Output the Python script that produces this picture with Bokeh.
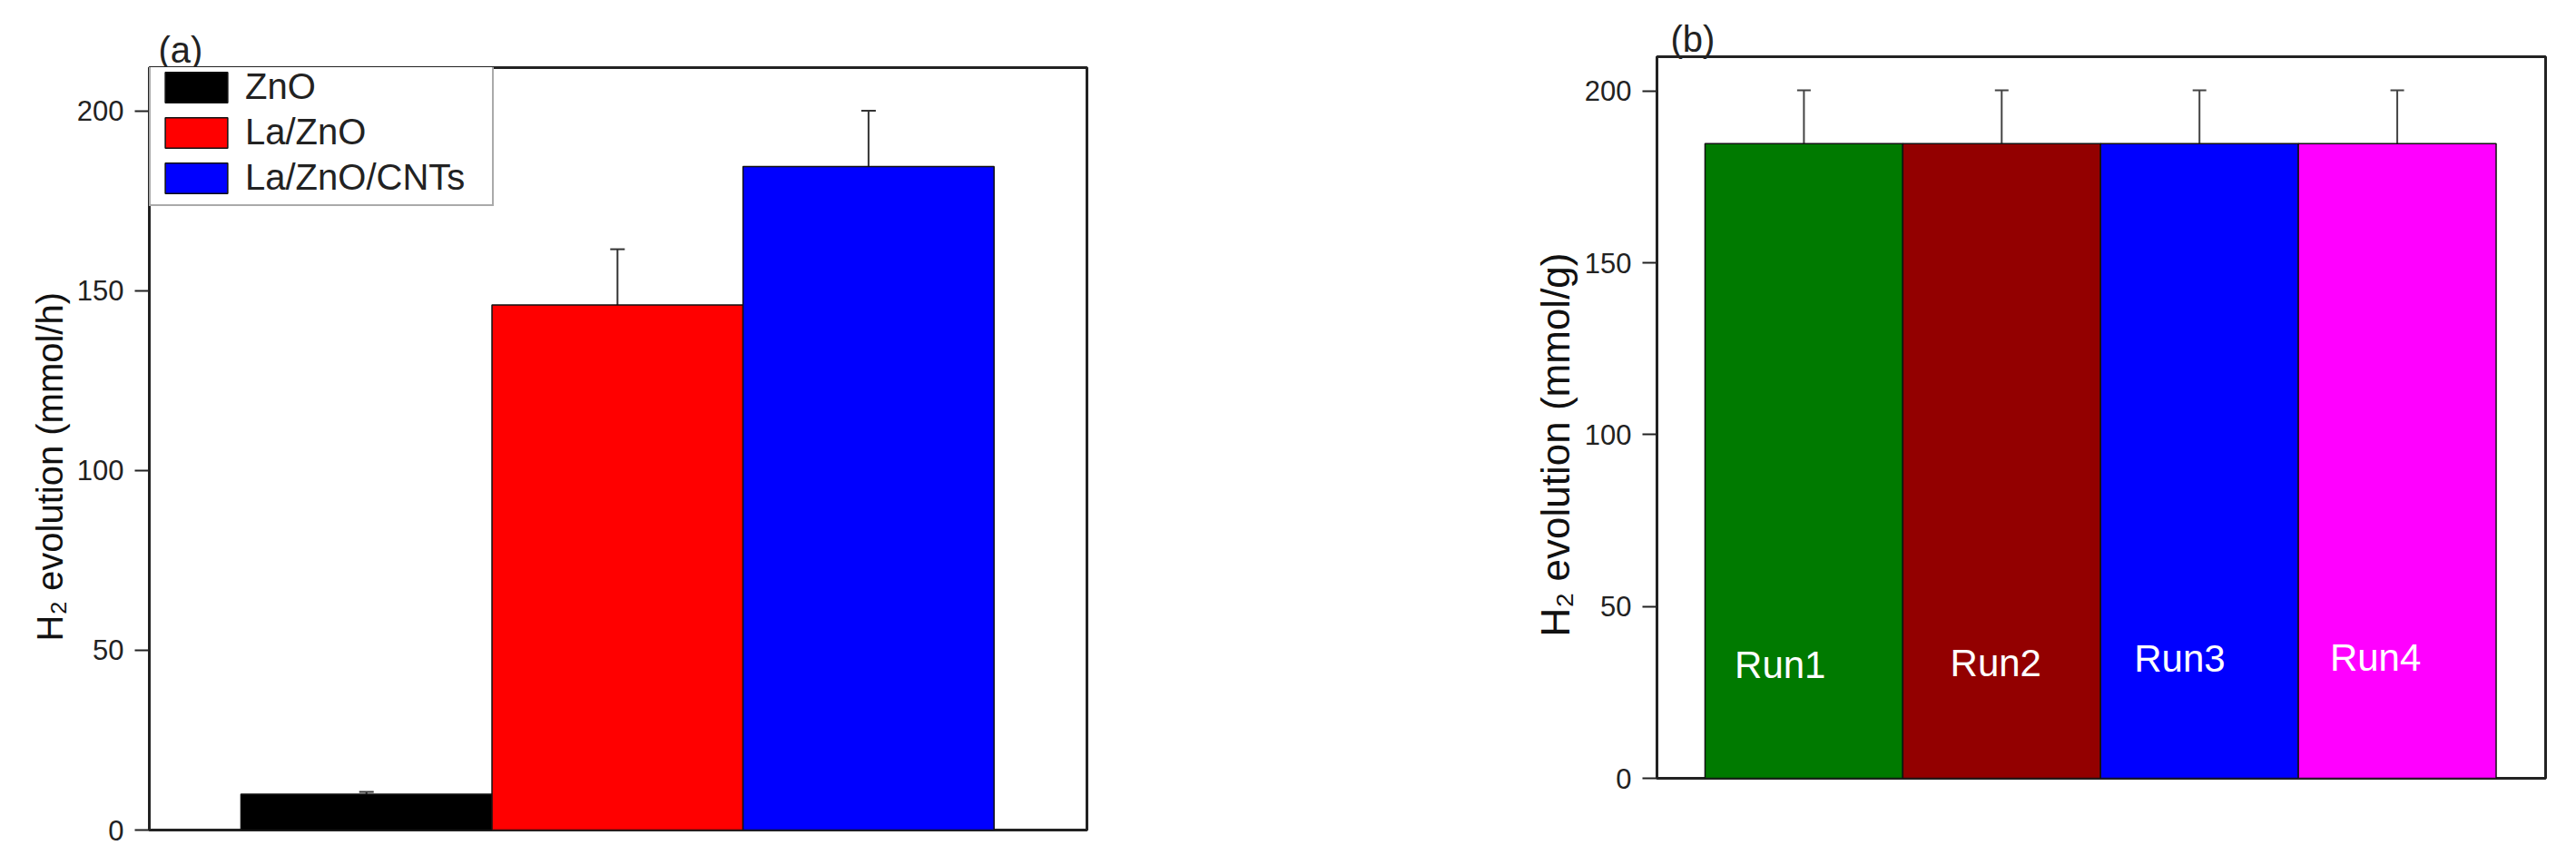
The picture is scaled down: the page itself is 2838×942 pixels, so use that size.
from bokeh.plotting import figure
from bokeh.layouts import row, column
from bokeh.models import ColumnDataSource, Range1d, Whisker, TeeHead, Title, FixedTicker
from bokeh.core.properties import value
from bokeh.embed import file_html
from bokeh.resources import INLINE

# ---------------- data ----------------
samples = ["ZnO", "La/ZnO", "La/ZnO/CNTs"]
rate_a = [10.0, 146.0, 184.5]
err_a = [0.6, 15.5, 15.5]
colors_a = ["#000000", "#ff0000", "#0000ff"]

runs = ["Run1", "Run2", "Run3", "Run4"]
evol_b = [184.7, 184.7, 184.7, 184.7]
err_b = [15.5, 15.5, 15.5, 15.5]
colors_b = ["#007a00", "#930000", "#0000ff", "#ff00ff"]

y_ticks = [0, 50, 100, 150, 200]

# label placement (styling)
run_label_dx = [-0.12, -0.03, -0.10, -0.11]
run_label_y = [33.0, 33.5, 34.8, 35.2]

FONT = "Liberation Sans"


def style_axes(p, label, label_size, label_offset, panel_tag, tag_offset):
    p.xgrid.visible = False
    p.ygrid.visible = False
    p.xaxis.visible = False
    ax = p.yaxis[0]
    ax.ticker = FixedTicker(ticks=y_ticks)
    ax.minor_tick_line_color = None
    ax.major_tick_in = 0
    ax.major_tick_out = 16
    ax.major_tick_line_width = 2
    ax.major_tick_line_color = "#222222"
    ax.axis_line_width = 3
    ax.axis_line_color = "#222222"
    ax.major_label_text_font = FONT
    ax.major_label_text_font_size = "31px"
    ax.major_label_text_color = "#222222"
    ax.major_label_standoff = 12
    p.outline_line_color = "#222222"
    p.outline_line_width = 3
    p.outline_line_alpha = 1.0
    # rotated axis title (placed outside the axis)
    p.add_layout(Title(text=label, align="left", offset=label_offset,
                       text_font=FONT, text_font_size=label_size,
                       text_font_style="normal", text_color="#111111",
                       standoff=10), "left")
    # panel tag
    p.title.text = panel_tag
    p.title.align = "left"
    p.title.offset = tag_offset
    p.title.standoff = -4
    p.title.text_font = FONT
    p.title.text_font_size = "40px"
    p.title.text_font_style = "normal"
    p.title.text_color = "#222222"


# ---------------- panel (a) ----------------
xa = [1, 2, 3]
src_a = ColumnDataSource(dict(
    x=xa, top=rate_a, color=colors_a, label=samples,
    upper=[v + e for v, e in zip(rate_a, err_a)],
    lower=[v - e for v, e in zip(rate_a, err_a)],
))

pa = figure(width=1675, height=932,
            x_range=Range1d(0.135, 3.87), y_range=Range1d(0, 212),
            output_backend="svg", toolbar_location=None,
            min_border_left=164, min_border_top=74,
            min_border_right=478, min_border_bottom=18)
pa.background_fill_color = "white"
pa.border_fill_color = "white"

pa.vbar(x="x", top="top", width=1.0, bottom=0, source=src_a,
        fill_color="color", line_color="#111111", line_width=1.5,
        legend_field="label")

wa = Whisker(base="x", upper="upper", lower="lower", source=src_a,
             dimension="height", line_color="#333333", line_width=2,
             upper_head=TeeHead(size=16, line_color="#333333", line_width=2),
             lower_head=TeeHead(size=16, line_color="#333333", line_width=2))
pa.add_layout(wa)

style_axes(pa, "H\u2082 evolution (mmol/h)", "40px", 208, "(a)", 10)

leg = pa.legend[0]
leg.location = (0, 687)
leg.margin = 0
leg.padding = 7
leg.spacing = 5
leg.glyph_width = 86
leg.glyph_height = 42
leg.label_standoff = 11
leg.label_width = 265
leg.label_height = 42
leg.label_text_font = FONT
leg.label_text_font_size = "40px"
leg.label_text_color = "#222222"
leg.border_line_color = "#555555"
leg.border_line_width = 2
leg.background_fill_color = "white"
leg.background_fill_alpha = 1.0

# ---------------- panel (b) ----------------
xb = [1, 2, 3, 4]
src_b = ColumnDataSource(dict(
    x=xb, top=evol_b, color=colors_b, label=runs,
    upper=[v + e for v, e in zip(evol_b, err_b)],
    lower=[v - e for v, e in zip(evol_b, err_b)],
    lx=[x + d for x, d in zip(xb, run_label_dx)],
    ly=run_label_y,
))

pb = figure(width=1139, height=932,
            x_range=Range1d(0.257, 4.75), y_range=Range1d(0, 210),
            output_backend="svg", toolbar_location=None,
            min_border_left=150, min_border_top=62,
            min_border_right=10, min_border_bottom=75)
pb.background_fill_color = "white"
pb.border_fill_color = "white"

pb.vbar(x="x", top="top", width=1.0, bottom=0, source=src_b,
        fill_color="color", line_color="#111111", line_width=1.5)

wb = Whisker(base="x", upper="upper", lower="lower", source=src_b,
             dimension="height", line_color="#444444", line_width=2,
             upper_head=TeeHead(size=15, line_color="#444444", line_width=2),
             lower_head=TeeHead(size=15, line_color="#444444", line_width=2))
pb.add_layout(wb)

pb.text(x="lx", y="ly", text="label", source=src_b,
        text_color="white", text_font=value(FONT), text_font_size="42px",
        text_align="center", text_baseline="alphabetic")

style_axes(pb, "H\u2082 evolution (mmol/g)", "44px", 156, "(b)", 15)

layout = row(column(pa), column(pb))
open("out.html", "w").write(file_html(layout, INLINE))
